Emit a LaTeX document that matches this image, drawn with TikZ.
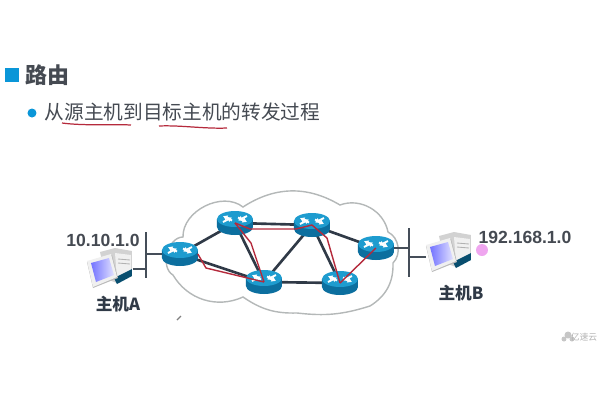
\documentclass[tikz,border=0pt]{standalone}
\usepackage{fontspec}
\setmainfont{Noto Sans CJK SC}
\newfontfamily\numfont{Liberation Sans}
\usetikzlibrary{arrows.meta,shapes.geometric}
\definecolor{inkgray}{HTML}{454A52}
\definecolor{linkgray}{HTML}{303A47}
\definecolor{bulletblue}{HTML}{0A96D8}
\definecolor{routertop}{HTML}{1E9CCF}
\definecolor{routerside}{HTML}{0C6F9F}
\definecolor{pathred}{HTML}{B52A3C}
\definecolor{cloudgray}{HTML}{B4B8B8}
\tikzset{
    routerspot/.style={shape=ellipse, minimum width=0.7cm, minimum height=0.42cm, inner sep=0pt},
    hostspot/.style={minimum width=0.9cm, minimum height=0.8cm, inner sep=0pt},
    netlink/.style={draw=linkgray, line width=1.5pt},
    redpath/.style={draw=pathred, line width=0.8pt},
    busline/.style={draw=linkgray!90!white, line width=1.5pt},
    hostlabel/.style={font={\fontsize{9.5}{11}\selectfont\bfseries}, text=linkgray, inner sep=0pt},
    netlabel/.style={font={\numfont\fontsize{10}{12}\selectfont\bfseries}, text=inkgray, inner sep=0pt},
    pics/routerbody/.style={code={
        \fill[routerside] (-18,-4) -- (-18,4) arc[start angle=180, end angle=0, x radius=18, y radius=8] -- (18,-4) -- cycle;
        \fill[routertop] (0,-4) ellipse[x radius=18, y radius=8];
        \draw[white, line width=1.1pt, -{Latex[length=2.5pt,width=3.5pt]}] (-3,-2.5) -- (-12,-7);
        \draw[white, line width=1.1pt, -{Latex[length=2.5pt,width=3.5pt]}] (3,-5.5) -- (12,-1);
        \draw[white, line width=1.1pt, -{Latex[length=2.5pt,width=3.5pt]}] (-12,-1) -- (-3,-5.5);
        \draw[white, line width=1.1pt, -{Latex[length=2.5pt,width=3.5pt]}] (12,-7) -- (3,-2.5);
    }},
    pics/hostbody/.style={code={
        \fill[gray!35] (-10,-17) -- (5,-21) -- (22,-18) -- (22,6) -- (7,14) -- (-4,10) -- cycle;
        \fill[gray!12] (5,-16) -- (21,-14) -- (21,2) -- (7,9) -- cycle;
        \draw[gray!60, line width=0.5pt] (8,-10) -- (20,-9);
        \draw[gray!60, line width=0.5pt] (8,-6) -- (20,-5);
        \fill[routerside!70!black] (4,9) -- (22,0) -- (22,7) -- (7,15) -- cycle;
        \fill[gray!55] (-23,-7) -- (2,-14) -- (8,9) -- (-17,19) -- cycle;
        \fill[gray!12] (-23,-8) -- (1,-15) -- (7,8) -- (-17,18) -- cycle;
        \shade[left color=blue!55!white, right color=blue!12!white] (-19,-6) -- (-1,-11) -- (4,6) -- (-14,13) -- cycle;
    }}
}

\begin{document}
\begin{tikzpicture}[x=0.02cm, y=-0.02cm]
        \useasboundingbox (0,0) rectangle (600,400);
        % heading
        \fill[bulletblue] (5,68) rectangle (19,82);
        \node[font = {\fontsize{12.5}{14}\selectfont\bfseries}, text=inkgray, inner sep=0pt] (title) at (47.5,75) {路由};
        \fill[bulletblue] (32,113) circle (4.5);
        \node[font = {\fontsize{11.2}{14}\selectfont}, text=inkgray, inner sep=0pt] (subtitle) at (182.5,112) {从源主机到目标主机的转发过程};
        \draw[pathred, line width=0.7pt] (62,123) .. controls (85,126) and (110,124) .. (131,125);
        \draw[pathred, line width=0.7pt] (159,126) .. controls (180,125) and (205,129) .. (227,128);

        % cloud
        \draw[cloudgray, line width=0.8pt, fill=white] (173,275) to[bend left=75] (183,237)
            to[bend left=65] (243,207) to[bend left=32] (340,205) to[bend left=50] (388,232)
            to[bend left=55] (393,263) to[bend left=30] (370,306) to[bend left=12] (297,313)
            to[bend left=18] (243,297) to[bend left=42] (173,275);

        % routers
        \node[routerspot] (r1) at (180,254) {};
        \node[routerspot] (r2) at (235,223) {};
        \node[routerspot] (r3) at (264,282) {};
        \node[routerspot] (r4) at (312,225) {};
        \node[routerspot] (r5) at (376,248) {};
        \node[routerspot] (r6) at (340,283) {};

        % links
        \draw[netlink] (r1) -- (r2);
        \draw[netlink] (r1) -- (r3);
        \draw[netlink] (r2) -- (r3);
        \draw[netlink] (r2) -- (r4);
        \draw[netlink] (r3) -- (r4);
        \draw[netlink] (r3) -- (r6);
        \draw[netlink] (r4) -- (r6);
        \draw[netlink] (r4) -- (r5);

        \pic at (r1) {routerbody};
        \pic at (r2) {routerbody};
        \pic at (r3) {routerbody};
        \pic at (r4) {routerbody};
        \pic at (r5) {routerbody};
        \pic at (r6) {routerbody};

        % forwarding path
        \coordinate (bendA) at (206,268);
        \coordinate (bendB) at (251,243);
        \coordinate (bendC) at (250,229);
        \coordinate (bendD) at (296,229);
        \coordinate (bendE) at (327,238);
        \draw[redpath] (r1.east) -- (bendA) -- (r3.center);
        \draw[redpath] (r2.center) -- (bendB) -- (r3.center);
        \draw[redpath] (r2.center) -- (bendC) -- (bendD) -- (r4.center);
        \draw[redpath] (r4.center) -- (bendE) -- (r6.center);
        \draw[redpath] (r6.center) -- (r5.center);

        % hosts
        \node[hostspot] (hostA) at (110,269) {};
        \node[hostspot] (hostB) at (449,253) {};
        \pic at (hostA) {hostbody};
        \pic at (hostB) {hostbody};
        \coordinate (busAtop) at (146,232);
        \coordinate (busAbot) at (146,278);
        \coordinate (busBtop) at (409,228);
        \coordinate (busBbot) at (409,277);
        \draw[busline] (busAtop) -- (busAbot);
        \draw[busline] (busBtop) -- (busBbot);
        \draw[busline] (r1.west) -- (r1.west -| busAtop);
        \draw[busline] (hostA.east) -- (hostA.east -| busAtop);
        \draw[busline] (r5.east) -- (r5.east -| busBtop);
        \draw[busline] ([yshift=-0.08cm]hostB.west) -- ([yshift=-0.08cm]hostB.west -| busBtop);

        % labels
        \node[netlabel] (netA) at (103,240) {10.10.1.0};
        \node[netlabel] (netB) at (525,237) {192.168.1.0};
        \node[hostlabel] (nameA) at (118,304) {主机A};
        \node[hostlabel] (nameB) at (461,293) {主机B};
        \fill[violet!35!magenta!35!white] (482,250) circle (6);

        % pointer mark and watermark
        \draw[gray, line width=0.7pt] (177,320) -- (181,316);
        \fill[gray!45] (564,339) circle (2.5);
        \fill[gray!45] (568,335) circle (3.5);
        \fill[gray!45] (572,339) circle (2.5);
        \node[font = {\fontsize{5}{6}\selectfont}, text=gray!60, inner sep=0pt] (mark) at (584,337) {亿速云};
    \end{tikzpicture}
\end{document}
